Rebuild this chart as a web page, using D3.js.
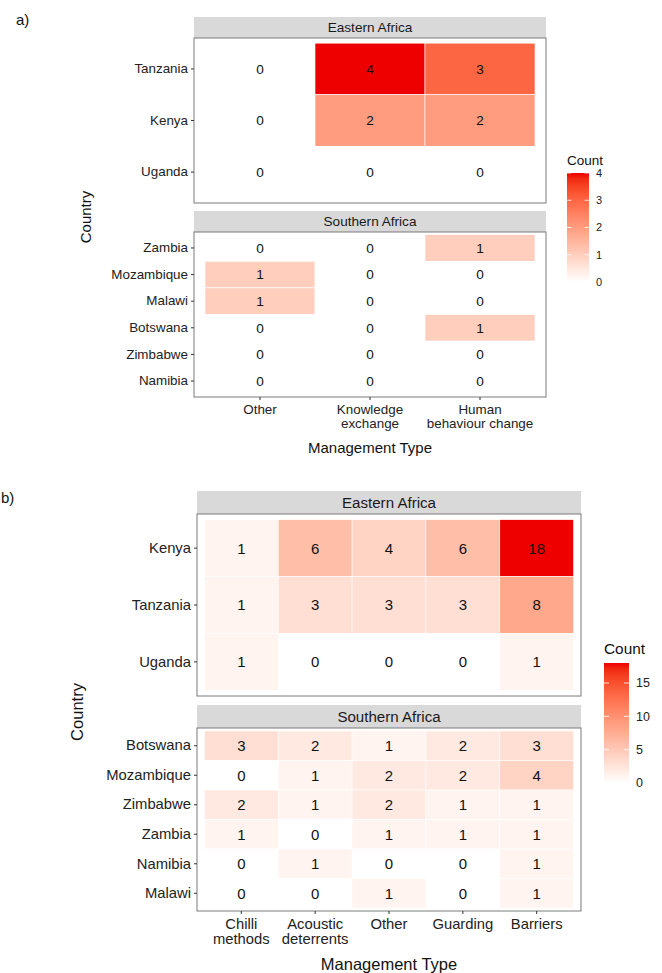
<!DOCTYPE html>
<html>
<head>
<meta charset="utf-8">
<script src="https://cdn.jsdelivr.net/npm/d3@7"></script>
<style>
  html, body { margin: 0; padding: 0; background: #fff; }
  svg { display: block; font-family: "Liberation Sans", Arial, sans-serif; }
</style>
</head>
<body>
<svg id="chart" width="662" height="973"></svg>
<script>
// ---- data: panel a) ----
const typesA = ["Other", "Knowledge exchange", "Human behaviour change"];
const typeLinesA = [["Other"], ["Knowledge", "exchange"], ["Human", "behaviour change"]];
const eastCountriesA = ["Tanzania", "Kenya", "Uganda"];
const eastCountsA = [[0, 4, 3], [0, 2, 2], [0, 0, 0]];
const southCountriesA = ["Zambia", "Mozambique", "Malawi", "Botswana", "Zimbabwe", "Namibia"];
const southCountsA = [[0, 0, 1], [1, 0, 0], [1, 0, 0], [0, 0, 1], [0, 0, 0], [0, 0, 0]];
const legendTicksA = [0, 1, 2, 3, 4];

// ---- data: panel b) ----
const typesB = ["Chilli methods", "Acoustic deterrents", "Other", "Guarding", "Barriers"];
const typeLinesB = [["Chilli", "methods"], ["Acoustic", "deterrents"], ["Other"], ["Guarding"], ["Barriers"]];
const eastCountriesB = ["Kenya", "Tanzania", "Uganda"];
const eastCountsB = [[1, 6, 4, 6, 18], [1, 3, 3, 3, 8], [1, 0, 0, 0, 1]];
const southCountriesB = ["Botswana", "Mozambique", "Zimbabwe", "Zambia", "Namibia", "Malawi"];
const southCountsB = [[3, 2, 1, 2, 3], [0, 1, 2, 2, 4], [2, 1, 2, 1, 1], [1, 0, 1, 1, 1], [0, 1, 0, 0, 1], [0, 0, 1, 0, 1]];
const legendTicksB = [0, 5, 10, 15];

const regionNames = ["Eastern Africa", "Southern Africa"];

const svg = d3.select("#chart");
const defs = svg.append("defs");

function heatmap(cfg) {
  const g = svg.append("g");
  const all = cfg.facets.flatMap(f => f.counts.flat());
  const maxV = d3.max(all);
  const color = d3.scaleLinear().domain([0, maxV]).range(["#ffffff", "#ee0000"]).interpolate(d3.interpolateLab);

  const x = d3.scaleBand().domain(cfg.types).range([cfg.left, cfg.right]).paddingInner(0).paddingOuter(0.1);

  cfg.facets.forEach((f, fi) => {
    const top = f.panelTop, bottom = f.panelBottom;
    // strip
    g.append("rect").attr("x", cfg.left).attr("y", f.stripTop)
      .attr("width", cfg.right - cfg.left).attr("height", top - f.stripTop)
      .attr("fill", "#d9d9d9");
    g.append("text").attr("x", (cfg.left + cfg.right) / 2).attr("y", (f.stripTop + top) / 2)
      .attr("dy", "0.35em").attr("text-anchor", "middle")
      .attr("font-size", cfg.stripSize).attr("fill", "#1a1a1a").text(regionNames[fi]);

    const y = d3.scaleBand().domain(f.countries).range([top, bottom]).paddingInner(0).paddingOuter(0.1);

    const cells = [];
    f.countries.forEach((c, ri) => cfg.types.forEach((t, ci) => cells.push({ c, t, v: f.counts[ri][ci] })));

    g.append("g").selectAll("rect").data(cells).join("rect")
      .attr("x", d => x(d.t)).attr("y", d => y(d.c))
      .attr("width", x.bandwidth()).attr("height", y.bandwidth())
      .attr("fill", d => color(d.v))
      .attr("stroke", "#ffffff").attr("stroke-width", 0.6);

    g.append("g").selectAll("text").data(cells).join("text")
      .attr("x", d => x(d.t) + x.bandwidth() / 2).attr("y", d => y(d.c) + y.bandwidth() / 2)
      .attr("dy", "0.36em").attr("text-anchor", "middle")
      .attr("font-size", cfg.cellSize).attr("fill", "#111").text(d => d.v);

    // panel border
    g.append("rect").attr("x", cfg.left).attr("y", top)
      .attr("width", cfg.right - cfg.left).attr("height", bottom - top)
      .attr("fill", "none").attr("stroke", "#7a7a7a").attr("stroke-width", 1);

    // y axis
    const ya = g.append("g").attr("transform", `translate(${cfg.left},0)`)
      .call(d3.axisLeft(y).tickSize(3).tickPadding(3));
    ya.select(".domain").remove();
    ya.selectAll(".tick line").attr("stroke", "#333");
    ya.selectAll(".tick text").attr("font-size", cfg.tickSize).attr("fill", "#222")
      .attr("font-family", "Liberation Sans, Arial, sans-serif");

    // x axis on the lowest panel
    if (fi === cfg.facets.length - 1) {
      const xa = g.append("g").attr("transform", `translate(0,${bottom})`)
        .call(d3.axisBottom(x).tickSize(3).tickFormat(""));
      xa.select(".domain").remove();
      xa.selectAll(".tick line").attr("stroke", "#333");
      cfg.types.forEach((t, i) => {
        const tx = g.append("text").attr("x", x(t) + x.bandwidth() / 2)
          .attr("y", bottom + cfg.xLabelOffset)
          .attr("text-anchor", "middle").attr("font-size", cfg.tickSize).attr("fill", "#222");
        cfg.typeLines[i].forEach((ln, li) => {
          tx.append("tspan").attr("x", x(t) + x.bandwidth() / 2).attr("dy", li === 0 ? 0 : cfg.lineGap).text(ln);
        });
      });
    }
  });

  // axis titles
  g.append("text").attr("x", (cfg.left + cfg.right) / 2).attr("y", cfg.xTitleY)
    .attr("text-anchor", "middle").attr("dy", "0.35em").attr("font-size", cfg.titleSize).attr("fill", "#111")
    .text("Management Type");
  g.append("text").attr("transform", `translate(${cfg.yTitleX},${cfg.yTitleY}) rotate(-90)`)
    .attr("text-anchor", "middle").attr("dy", "0.35em").attr("font-size", cfg.titleSize).attr("fill", "#111")
    .text("Country");

  // panel letter
  g.append("text").attr("x", cfg.letterX).attr("y", cfg.letterY).attr("dy", "0.35em")
    .attr("text-anchor", "start").attr("font-size", 15).attr("fill", "#111").text(cfg.letter);

  // colour bar legend
  const L = cfg.legend;
  const ly = d3.scaleLinear().domain([0, maxV]).range([L.bottom, L.top]);
  const gradId = "grad-" + cfg.letter.replace(")", "");
  const grad = defs.append("linearGradient").attr("id", gradId)
    .attr("x1", 0).attr("y1", 1).attr("x2", 0).attr("y2", 0);
  d3.range(0, 1.0001, 0.05).forEach(p => {
    grad.append("stop").attr("offset", p).attr("stop-color", color(p * maxV));
  });
  g.append("text").attr("x", L.x).attr("y", L.titleY).attr("dy", "0.35em")
    .attr("font-size", cfg.legendTitleSize).attr("fill", "#111").text("Count");
  g.append("rect").attr("x", L.x).attr("y", L.top).attr("width", L.w).attr("height", L.bottom - L.top)
    .attr("fill", `url(#${gradId})`);
  const lt = g.append("g");
  L.ticks.forEach(v => {
    const yy = ly(v);
    lt.append("line").attr("x1", L.x).attr("x2", L.x + L.w * 0.2).attr("y1", yy).attr("y2", yy)
      .attr("stroke", "#fff").attr("stroke-width", 0.8);
    lt.append("line").attr("x1", L.x + L.w * 0.8).attr("x2", L.x + L.w).attr("y1", yy).attr("y2", yy)
      .attr("stroke", "#fff").attr("stroke-width", 0.8);
    lt.append("text").attr("x", L.x + L.w + 7).attr("y", yy).attr("dy", "0.35em")
      .attr("font-size", cfg.legendTickSize).attr("fill", "#222").text(v);
  });
}

heatmap({
  letter: "a)", letterX: 16, letterY: 20,
  types: typesA, typeLines: typeLinesA,
  left: 194, right: 546,
  facets: [
    { countries: eastCountriesA, counts: eastCountsA, stripTop: 17, panelTop: 38, panelBottom: 203 },
    { countries: southCountriesA, counts: southCountsA, stripTop: 211, panelTop: 232, panelBottom: 397 }
  ],
  stripSize: 13.6, cellSize: 13.6, tickSize: 13.4, titleSize: 15, lineGap: 14,
  xLabelOffset: 17, xTitleY: 448, yTitleX: 86, yTitleY: 217,
  legendTitleSize: 13.5, legendTickSize: 11,
  legend: { x: 567, w: 22, top: 173, bottom: 282, titleY: 160, ticks: legendTicksA }
});

heatmap({
  letter: "b)", letterX: 1, letterY: 498,
  types: typesB, typeLines: typeLinesB,
  left: 197, right: 581,
  facets: [
    { countries: eastCountriesB, counts: eastCountsB, stripTop: 491, panelTop: 514, panelBottom: 696 },
    { countries: southCountriesB, counts: southCountsB, stripTop: 705, panelTop: 728, panelBottom: 911 }
  ],
  stripSize: 15.1, cellSize: 15, tickSize: 14.8, titleSize: 16.5, lineGap: 15,
  xLabelOffset: 18, xTitleY: 964, yTitleX: 77, yTitleY: 712,
  legendTitleSize: 15.4, legendTickSize: 12.5,
  legend: { x: 604, w: 25, top: 663, bottom: 783, titleY: 649, ticks: legendTicksB }
});
</script>
</body>
</html>
